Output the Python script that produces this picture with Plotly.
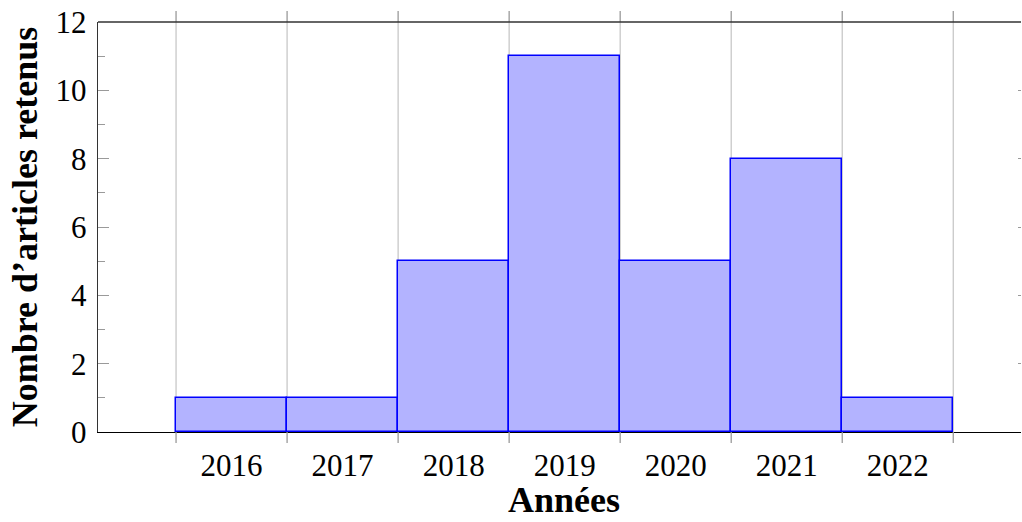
import plotly.graph_objects as go

years = [2016, 2017, 2018, 2019, 2020, 2021, 2022]
counts = [1, 1, 5, 11, 5, 8, 1]
y_ticks = [0, 2, 4, 6, 8, 10, 12]
x_title = "Années"
y_title = "Nombre d’articles retenus"

FONT = "Liberation Serif"
edges = [y - 0.5 for y in years] + [years[-1] + 0.5]

fig = go.Figure()
fig.add_trace(go.Bar(
    x=years, y=counts, width=1,
    marker=dict(color="#b3b3ff", line=dict(color="#0000ff", width=1.5)),
    showlegend=False, hoverinfo="x+y",
))
# invisible trace to carry the right-side mirrored ticks
fig.add_trace(go.Scatter(x=[years[0]], y=[0], yaxis="y2", mode="markers",
                         marker=dict(opacity=0), showlegend=False, hoverinfo="skip"))

shapes = []
for e in edges:
    shapes.append(dict(type="line", xref="x", yref="paper", x0=e, x1=e, y0=0, y1=1,
                       line=dict(color="#c8c8c8", width=1.3), layer="below"))
    shapes.append(dict(type="line", xref="x", yref="paper", x0=e, x1=e, y0=-0.027, y1=0,
                       line=dict(color="#9a9a9a", width=1.3), layer="above"))
    shapes.append(dict(type="line", xref="x", yref="paper", x0=e, x1=e, y0=1, y1=1.027,
                       line=dict(color="#9a9a9a", width=1.3), layer="above"))
shapes.append(dict(type="line", xref="paper", yref="paper", x0=0, x1=1, y0=1, y1=1,
                   line=dict(color="#333333", width=1.4), layer="above"))

fig.update_layout(
    width=1022, height=522,
    margin=dict(l=98, r=1, t=22, b=90, autoexpand=False),
    paper_bgcolor="white", plot_bgcolor="white",
    bargap=0,
    shapes=shapes,
    font=dict(family=FONT, color="black", size=31),
    annotations=[dict(
        text="<b>" + x_title + "</b>", xref="paper", yref="paper",
        x=0.505, y=-0.218, xanchor="center", yanchor="bottom", showarrow=False,
        borderpad=0, font=dict(family=FONT, size=36, color="black"),
    )],
    xaxis=dict(
        range=[2014.797, 2023.11], automargin=False,
        tickmode="array", tickvals=years, ticktext=[str(y) for y in years],
        ticks="", showgrid=False, zeroline=False,
        showline=True, linecolor="black", linewidth=1.4,
        tickfont=dict(family=FONT, size=31),
        ticklabelstandoff=6,
    ),
    yaxis=dict(
        range=[0, 12], tickmode="array", tickvals=y_ticks, automargin=False,
        ticks="inside", ticklen=11, tickcolor="#9a9a9a", tickwidth=1.3,
        minor=dict(dtick=1, ticks="inside", ticklen=7, tickcolor="#9a9a9a", tickwidth=1.3, showgrid=False),
        showgrid=False, zeroline=False,
        showline=True, linecolor="#333333", linewidth=1.4,
        tickfont=dict(family=FONT, size=31),
        ticklabelstandoff=4,
        title=dict(text="<b>" + y_title + "</b>", font=dict(family=FONT, size=36), standoff=6),
    ),
    yaxis2=dict(
        overlaying="y", side="right", range=[0, 12], tickmode="array", tickvals=y_ticks,
        automargin=False,
        ticks="inside", ticklen=3, tickcolor="#9a9a9a", tickwidth=1.3,
        showticklabels=False, showgrid=False, zeroline=False, showline=False,
    ),
)

fig.write_html(
    "out.html",
    config={"displayModeBar": False},
    post_script="document.body.style.margin='0px';document.body.style.overflow='hidden';",
)
